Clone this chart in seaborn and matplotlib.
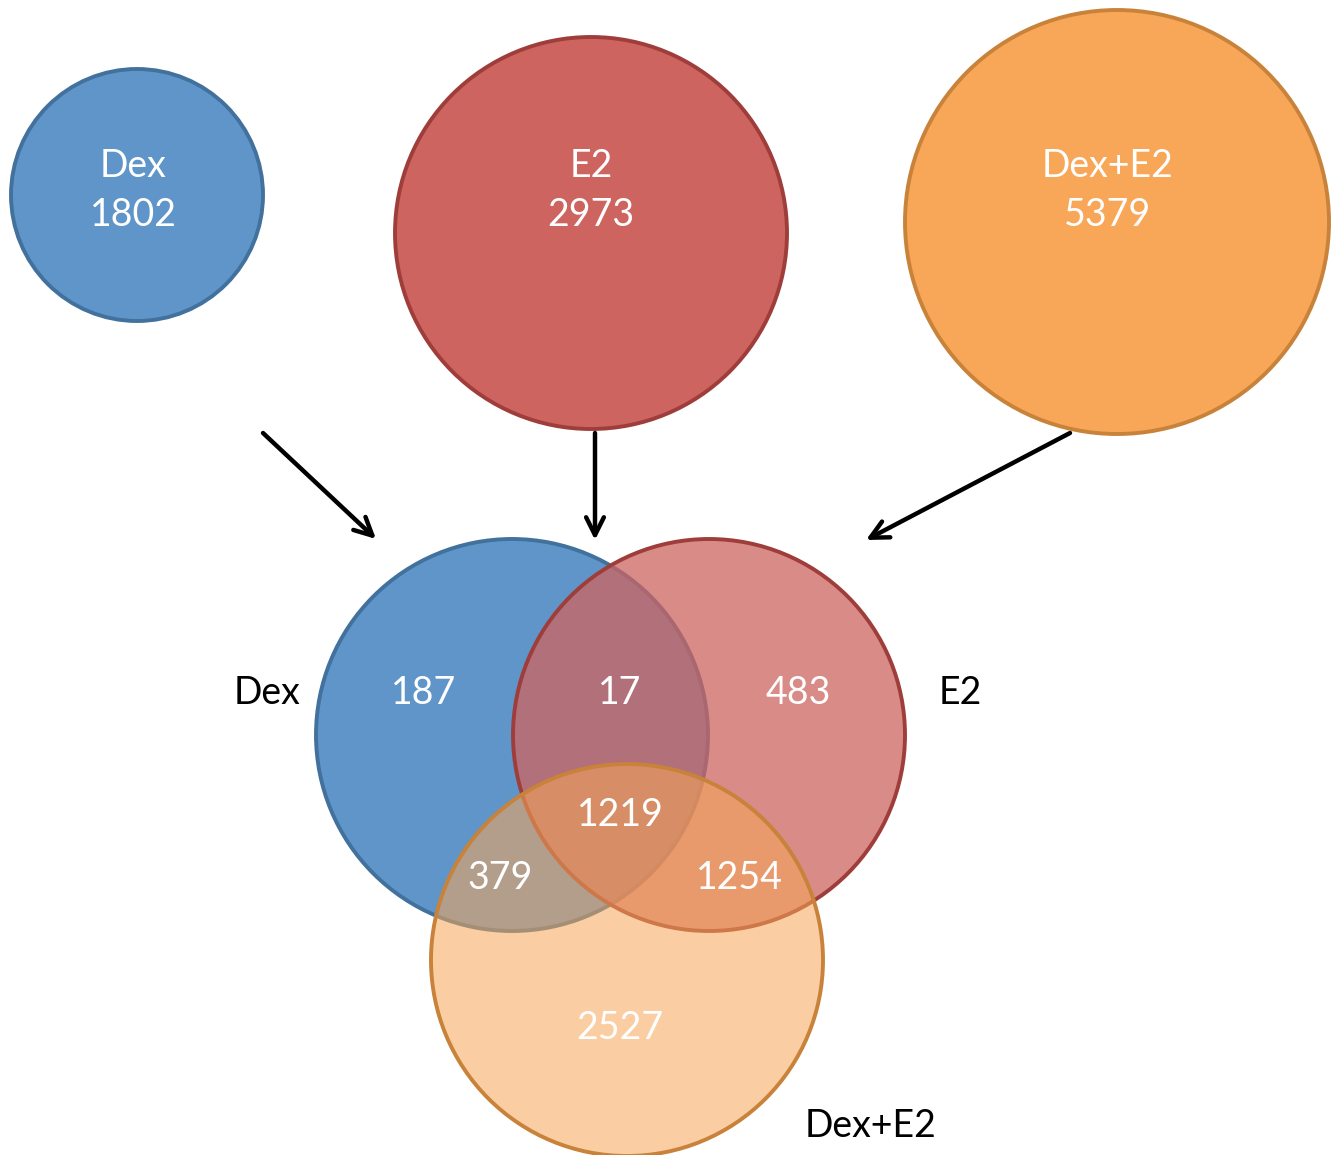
import matplotlib
matplotlib.use("Agg")
import matplotlib.pyplot as plt
from matplotlib.patches import Circle
import seaborn as sns

# Treatment groups and their total gene counts
set_names = ["Dex", "E2", "Dex+E2"]
set_totals = [1802, 2973, 5379]

# Venn region counts
region_names = ["Dex only", "Dex&E2", "E2 only", "all", "Dex&Dex+E2", "E2&Dex+E2", "Dex+E2 only"]
region_counts = [187, 17, 483, 1219, 379, 1254, 2527]

fills = ["#5F95C9", "#CD6460", "#F7A757"]
edges = ["#41719C", "#9E3D3A", "#C8823A"]

sns.set_theme(style="white")
plt.rcParams["font.family"] = ["Lato", "DejaVu Sans"]

W, H = 1340, 1155
fig = plt.figure(figsize=(W / 100, H / 100), dpi=100)
ax = fig.add_axes([0, 0, 1, 1])
ax.set_xlim(0, W)
ax.set_ylim(H, 0)
ax.set_aspect("equal")
ax.axis("off")

FS = 27
DY = 3

# Top row: one circle per treatment
top_layout = [((137, 195), 126), ((591, 233), 196), ((1117, 222), 212)]
top_text_x = [133, 591, 1108]
for (c, r), name, total, fc, ec, tx in zip(top_layout, set_names, set_totals, fills, edges, top_text_x):
    ax.add_patch(Circle(c, r, facecolor=fc, edgecolor=ec, lw=2.8))
    ax.text(tx, 163 + DY, name, color="white", fontsize=FS, ha="center", va="center")
    ax.text(tx, 212 + DY, f"{total}", color="white", fontsize=FS, ha="center", va="center")

# Arrows pointing down to the Venn diagram
arrows = [((263, 433), (376, 539)), ((595, 433), (595, 540)), ((1070, 433), (866, 540))]
for start, end in arrows:
    ax.annotate("", xy=end, xytext=start,
                arrowprops=dict(arrowstyle="->", color="black", lw=3.2,
                                mutation_scale=32, shrinkA=0, shrinkB=0))

# Overlapping Venn circles
venn_layout = [((512, 735), 196), ((709, 735), 196), ((627, 960), 196)]
alphas = [1.0, 0.75, 0.55]
for (c, r), fc, ec, a in zip(venn_layout, fills, edges, alphas):
    rgba = matplotlib.colors.to_rgba(fc, a)
    ax.add_patch(Circle(c, r, facecolor=rgba, edgecolor=ec, lw=2.8))

# Region counts
region_pos = [(424, 690), (620, 690), (798, 690), (620, 812), (500, 875), (739, 875), (620, 1025)]
for (x, y), n in zip(region_pos, region_counts):
    ax.text(x, y + DY, f"{n}", color="white", fontsize=FS, ha="center", va="center")

# Set labels beside the Venn
label_pos = [(267, 690), (960, 690), (871, 1123)]
for (x, y), name in zip(label_pos, set_names):
    ax.text(x, y + DY, name, color="black", fontsize=FS, ha="center", va="center")

fig.savefig("out.png", dpi=100, facecolor="white")
